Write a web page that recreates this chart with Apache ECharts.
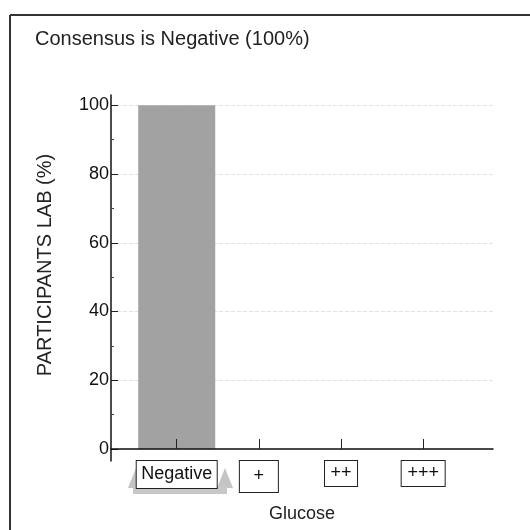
<!DOCTYPE html>
<html>
<head>
<meta charset="utf-8">
<script src="https://cdn.jsdelivr.net/npm/echarts@6/dist/echarts.min.js"></script>
<style>
  html, body { margin: 0; padding: 0; background: #fff; }
  #chart { width: 530px; height: 530px; }
</style>
</head>
<body>
<div id="chart"></div>
<script>
// data
const categories = ['Negative', '+', '++', '+++']
const positions = [1, 2, 3, 4]
const values = [100, 0, 0, 0]
const yTicks = [0, 20, 40, 60, 80, 100]
const yMinorTicks = [10, 30, 50, 70, 90]

const chart = echarts.init(document.getElementById('chart'))

// label box styles, one per category
const boxBase = {
  fontFamily: 'Liberation Sans',
  fontSize: 18,
  color: '#111',
  backgroundColor: '#fff',
  borderColor: '#222',
  borderWidth: 1,
  align: 'center',
  verticalAlign: 'middle',
  padding: 0
}
const rich = {
  c0: Object.assign({}, boxBase, { width: 80, height: 27, lineHeight: 27 }),
  c1: Object.assign({}, boxBase, { width: 38, height: 31, lineHeight: 31 }),
  c2: Object.assign({}, boxBase, { width: 32, height: 25, lineHeight: 25 }),
  c3: Object.assign({}, boxBase, { width: 43, height: 25, lineHeight: 25 })
}

const option = {
  animation: false,
  backgroundColor: '#fff',
  title: {
    text: 'Consensus is Negative (100%)',
    left: 30,
    top: 24,
    textStyle: {
      fontFamily: 'Liberation Sans',
      fontSize: 20,
      fontWeight: 'normal',
      color: '#222'
    }
  },
  grid: { left: 111, right: 37, top: 95, bottom: 69 },
  xAxis: {
    type: 'value',
    min: 0.2,
    max: 4.85,
    z: 5,
    name: 'Glucose',
    nameLocation: 'middle',
    nameGap: 44,
    nameTextStyle: { fontFamily: 'Liberation Sans', fontSize: 18, color: '#222' },
    axisLine: { show: true, lineStyle: { color: '#111', width: 1.5 } },
    axisTick: { show: true, inside: true, length: 10, customValues: positions, lineStyle: { color: '#222' } },
    axisLabel: {
      customValues: positions,
      margin: 0,
      formatter: v => {
        const i = positions.indexOf(Math.round(v))
        return '{c' + i + '|' + categories[i] + '}'
      },
      rich: rich
    },
    splitLine: { show: false }
  },
  yAxis: [
    {
      type: 'value',
      position: 'left',
      min: -3.5,
      max: 103,
      name: 'PARTICIPANTS LAB (%)',
      nameLocation: 'middle',
      nameGap: 56,
      nameTextStyle: { fontFamily: 'Liberation Sans', fontSize: 20, color: '#222', padding: [0, 0, 0, 26] },
      axisLine: { show: true, lineStyle: { color: '#111', width: 1.5 } },
      axisTick: { show: true, inside: true, length: 7, customValues: yTicks, lineStyle: { color: '#222' } },
      axisLabel: {
        customValues: yTicks,
        margin: 2,
        fontFamily: 'Liberation Sans',
        fontSize: 18,
        color: '#111'
      },
      splitLine: { show: true, lineStyle: { color: '#e2e2e2', type: 'dashed', width: 1 } }
    },
    {
      type: 'value',
      position: 'left',
      offset: 0,
      min: -3.5,
      max: 103,
      axisLine: { show: false },
      axisTick: { show: true, inside: true, length: 3, customValues: yMinorTicks, lineStyle: { color: '#444' } },
      axisLabel: { show: false },
      splitLine: { show: false }
    }
  ],
  series: [
    {
      type: 'bar',
      barWidth: 77,
      data: positions.map((p, i) => [p, values[i]]),
      itemStyle: { color: '#a2a2a2' }
    }
  ],
  graphic: [
    // frame of the scanned figure
    { type: 'line', shape: { x1: 10, y1: 15, x2: 530, y2: 15 }, style: { stroke: '#333', lineWidth: 2 } },
    { type: 'line', shape: { x1: 10, y1: 15, x2: 10, y2: 530 }, style: { stroke: '#333', lineWidth: 2 } },
    // grey marker round the consensus label
    { type: 'polygon', z: 0, shape: { points: [[128, 488], [136, 468], [144, 488]] }, style: { fill: '#c4c4c4' } },
    { type: 'polygon', z: 0, shape: { points: [[217, 488], [225, 468], [233, 488]] }, style: { fill: '#c4c4c4' } },
    { type: 'rect', z: 0, shape: { x: 133, y: 486, width: 94, height: 8 }, style: { fill: '#c8c8c8' } }
  ]
}

chart.setOption(option)
</script>
</body>
</html>
